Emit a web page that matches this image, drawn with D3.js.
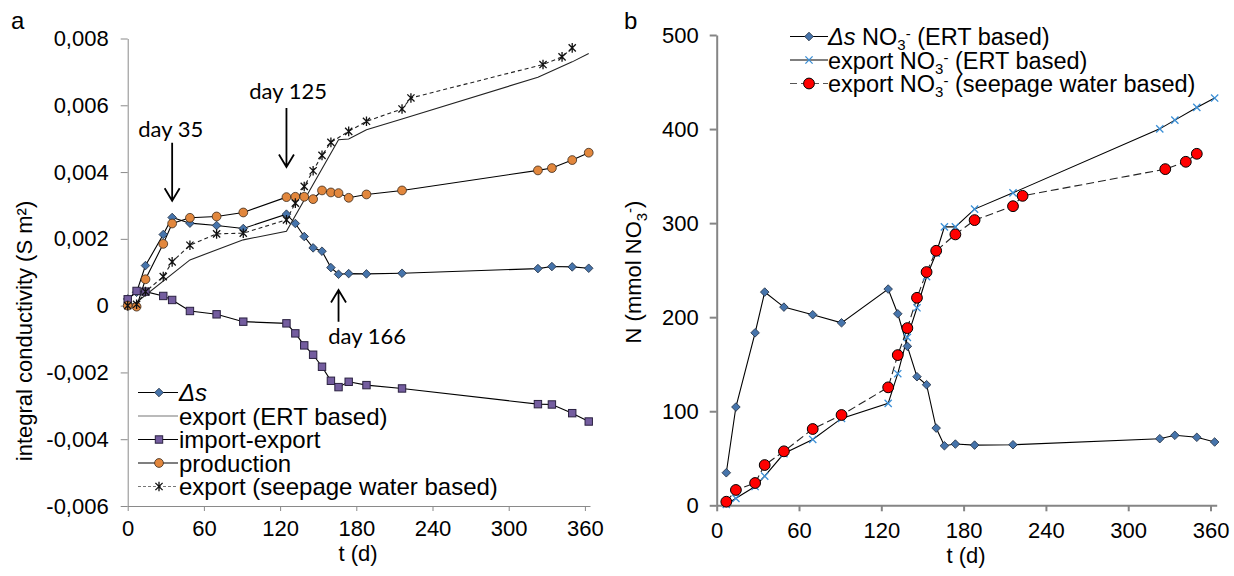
<!DOCTYPE html>
<html>
<head>
<meta charset="utf-8">
<script src="https://cdn.jsdelivr.net/npm/d3@7/dist/d3.min.js"></script>
<style>
body { margin: 0; background: #fff; }
svg { display: block; font-family: "Liberation Sans", Arial, sans-serif; }
</style>
</head>
<body>
<svg id="chart" width="1234" height="576"></svg>
<script>
// ---- panel a : integral conductivity
const daysA = [0, 7, 14, 28, 35, 49, 70, 91, 125, 132, 139, 146, 153, 160, 166, 174, 188, 216, 323, 334, 350, 363];
const deltaS = [0.0002, 0.0004, 0.0012, 0.00213, 0.00264, 0.00247, 0.0024, 0.00231, 0.00274, 0.00246, 0.00207, 0.00173, 0.00163, 0.00114, 0.00094, 0.00096, 0.00095, 0.00097, 0.00111, 0.00117, 0.00116, 0.00112];
const production = [0, -0.00003, 0.00079, 0.00185, 0.00246, 0.00263, 0.00267, 0.00279, 0.00325, 0.00326, 0.00326, 0.00319, 0.00345, 0.00339, 0.00337, 0.00323, 0.00333, 0.00345, 0.00405, 0.00412, 0.00436, 0.00458];
const importExport = [0.00019, 0.00044, 0.00042, 0.00029, 0.00017, -0.00016, -0.00026, -0.00048, -0.00053, -0.00083, -0.00119, -0.00147, -0.00183, -0.00225, -0.00244, -0.00228, -0.00238, -0.00248, -0.00295, -0.00296, -0.00322, -0.00347];

const daysErtA = [0, 7, 49, 91, 125, 166, 174, 188, 216, 323, 350, 363];
const exportErtA = [0, 0.0001, 0.00137, 0.00197, 0.00223, 0.00497, 0.00499, 0.00527, 0.00559, 0.00684, 0.0073, 0.00755];

const daysSeep = [0, 7, 14, 28, 35, 49, 70, 91, 125, 132, 139, 146, 153, 160, 174, 188, 216, 223, 327, 342, 350];
const exportSeepA = [0, 0.00004, 0.00042, 0.00087, 0.00131, 0.00181, 0.00215, 0.00217, 0.00257, 0.00307, 0.00357, 0.00404, 0.0045, 0.00489, 0.00522, 0.00552, 0.00589, 0.00622, 0.00722, 0.00745, 0.00772];

const ticksXA = [0, 60, 120, 180, 240, 300, 360];
const ticksYA = [-0.006, -0.004, -0.002, 0, 0.002, 0.004, 0.006, 0.008];

// arrows: day, tip value, direction
const notes = [
    {day: 35, label: "day 35", tip: 0.00314, tail: 0.00488, down: true},
    {day: 125, label: "day 125", tip: 0.00415, tail: 0.00592, down: true},
    {day: 166, label: "day 166", tip: 0.00047, tail: -0.00048, down: false}
];

// ---- panel b : nitrate
const daysB = [7, 14, 28, 35, 49, 70, 91, 125, 132, 139, 146, 153, 160, 166, 174, 188, 216, 323, 334, 350, 363];
const deltaNO3 = [34.6, 104.5, 183.4, 226.7, 210.7, 202.6, 194, 229.9, 203.6, 169, 136.7, 128.2, 82.1, 63.3, 65.1, 64, 64.4, 70.8, 74.4, 72.3, 67.3];
const exportErtB = [1, 7.4, 20, 31, 55, 70, 92.4, 108.4, 139.9, 178.5, 210, 243, 268, 296, 296, 314.9, 332.2, 400.2, 409.5, 423, 433];

const daysSeepB = [7, 14, 28, 35, 49, 70, 91, 125, 132, 139, 146, 153, 160, 174, 188, 216, 223, 327, 342, 350];
const exportSeepB = [3.8, 16.3, 23.7, 42.8, 57.4, 81.1, 96, 125.4, 159.7, 188.4, 220.6, 248, 270.6, 288, 303.2, 318, 329, 357.4, 365.2, 373.7];

const ticksXB = [0, 60, 120, 180, 240, 300, 360];
const ticksYB = [0, 100, 200, 300, 400, 500];

const svg = d3.select("#chart");

const xA = d3.scaleLinear().domain([0, 364]).range([127.7, 590]);
const yA = d3.scaleLinear().domain([-0.006, 0.008]).range([506, 38.5]);
const xB = d3.scaleLinear().domain([0, 364.5]).range([716.7, 1216.7]);
const yB = d3.scaleLinear().domain([0, 500]).range([505.3, 35]);

const fmtA = d => d === 0 ? "0" : d.toFixed(3).replace(".", ",");

// markers
const diamond = "M0,-4.3L4.3,0L0,4.3L-4.3,0Z";
const star = "M-3.6,-3.6L3.6,3.6M-3.6,3.6L3.6,-3.6M0,-4.8L0,4.8";
const cross = "M-3.6,-3.6L3.6,3.6M-3.6,3.6L3.6,-3.6";

function drawMarks(g, pts, x, y, kind) {
    const sel = g.append("g").selectAll("g").data(pts).join("g")
        .attr("transform", d => `translate(${x(d[0])},${y(d[1])})`);
    addMarker(sel, kind);
}

function addMarker(sel, kind) {
    if (kind === "diamond")
        sel.append("path").attr("d", diamond).attr("fill", "#4674ab").attr("stroke", "#1e2b3d").attr("stroke-width", 0.8);
    if (kind === "square")
        sel.append("rect").attr("x", -3.7).attr("y", -3.7).attr("width", 7.4).attr("height", 7.4)
            .attr("fill", "#745d9f").attr("stroke", "#2a2140").attr("stroke-width", 1);
    if (kind === "circle")
        sel.append("circle").attr("r", 4.4).attr("fill", "#e2873d").attr("stroke", "#3a2a1c").attr("stroke-width", 0.8);
    if (kind === "star")
        sel.append("path").attr("d", star).attr("fill", "none").attr("stroke", "#111").attr("stroke-width", 1.3);
    if (kind === "cross")
        sel.append("path").attr("d", cross).attr("fill", "none").attr("stroke", "#3b8fd6").attr("stroke-width", 1.3);
    if (kind === "red")
        sel.append("circle").attr("r", 5.4).attr("fill", "#ff0000").attr("stroke", "#000").attr("stroke-width", 1);
}

function drawLine(g, pts, x, y, color, dash) {
    g.append("path")
        .datum(pts)
        .attr("fill", "none")
        .attr("stroke", color)
        .attr("stroke-width", 1.1)
        .attr("stroke-dasharray", dash || null)
        .attr("d", d3.line().x(d => x(d[0])).y(d => y(d[1])));
}

function styleAxis(g, color, width) {
    g.select(".domain").attr("stroke", color).attr("stroke-width", width);
    g.selectAll(".tick line").attr("stroke", color).attr("stroke-width", width);
    g.selectAll(".tick text").attr("fill", "#000").attr("font-size", 22)
        .attr("font-family", "'Liberation Sans', Arial, sans-serif");
}

// ================= panel a =================
const gA = svg.append("g");

gA.append("g")
    .attr("transform", `translate(${xA(0)},0)`)
    .call(d3.axisLeft(yA).tickValues(ticksYA).tickFormat(fmtA).tickSize(7).tickPadding(12).tickSizeOuter(0))
    .call(g => styleAxis(g, "#8a8a8a", 1));

gA.append("g")
    .attr("transform", `translate(0,${yA(-0.006)})`)
    .call(d3.axisBottom(xA).tickValues(ticksXA).tickSize(5).tickPadding(9).tickSizeOuter(0))
    .call(g => styleAxis(g, "#8a8a8a", 1));

drawLine(gA, d3.zip(daysA, deltaS), xA, yA, "#000");
drawLine(gA, d3.zip(daysErtA, exportErtA), xA, yA, "#222");
drawLine(gA, d3.zip(daysA, importExport), xA, yA, "#000");
drawLine(gA, d3.zip(daysA, production), xA, yA, "#000");
drawLine(gA, d3.zip(daysSeep, exportSeepA), xA, yA, "#222", "4,3");

drawMarks(gA, d3.zip(daysA, deltaS), xA, yA, "diamond");
drawMarks(gA, d3.zip(daysA, importExport), xA, yA, "square");
drawMarks(gA, d3.zip(daysA, production), xA, yA, "circle");
drawMarks(gA, d3.zip(daysSeep, exportSeepA), xA, yA, "star");

// arrows and day labels
notes.forEach(n => {
    const x = xA(n.day);
    const y1 = yA(n.tail), y2 = yA(n.tip);
    const s = n.down ? -1 : 1;
    gA.append("path")
        .attr("d", `M${x},${y1}L${x},${y2}M${x - 7.5},${y2 + s * 12.5}L${x},${y2}L${x + 7.5},${y2 + s * 12.5}`)
        .attr("fill", "none").attr("stroke", "#000").attr("stroke-width", 1.8);
});
gA.append("text").attr("x", 138.3).attr("y", 137).text("day 35")
    .attr("font-family", "Lato, 'Open Sans', sans-serif").attr("font-size", 22);
gA.append("text").attr("x", 249.3).attr("y", 99).text("day 125")
    .attr("font-family", "Lato, 'Open Sans', sans-serif").attr("font-size", 22);
gA.append("text").attr("x", 328.3).attr("y", 344).text("day 166")
    .attr("font-family", "Lato, 'Open Sans', sans-serif").attr("font-size", 22);

// legend a
const legA = [
    {kind: "diamond", line: "#000", dash: null, label: "Δs", italic: true},
    {kind: null, line: "#777", dash: null, label: "export (ERT based)"},
    {kind: "square", line: "#000", dash: null, label: "import-export"},
    {kind: "circle", line: "#000", dash: null, label: "production"},
    {kind: "star", line: "#777", dash: "3,2", label: "export (seepage water based)"}
];
const rowA = gA.append("g").selectAll("g").data(legA).join("g")
    .attr("transform", (d, i) => `translate(0,${392.5 + i * 23.5})`);
rowA.append("line").attr("x1", 138).attr("x2", 178).attr("y1", 0).attr("y2", 0)
    .attr("stroke", d => d.line).attr("stroke-width", 1.1).attr("stroke-dasharray", d => d.dash);
rowA.each(function(d) {
    if (d.kind) addMarker(d3.select(this).append("g").attr("transform", "translate(159,0)"), d.kind);
});
rowA.append("text").attr("x", 179).attr("y", 8.5).attr("font-size", 24)
    .attr("font-style", d => d.italic ? "italic" : null)
    .text(d => d.label);

// axis titles a
gA.append("text").attr("transform", "translate(32,331) rotate(-90)")
    .attr("text-anchor", "middle").attr("font-size", 22)
    .text("integral conductivity (S m²)");
gA.append("text").attr("x", 358).attr("y", 561).attr("text-anchor", "middle").attr("font-size", 22).text("t (d)");
gA.append("text").attr("x", 11).attr("y", 29).attr("font-size", 24).text("a");

// ================= panel b =================
const gB = svg.append("g");

gB.append("g")
    .attr("transform", `translate(${xB(0)},0)`)
    .call(d3.axisLeft(yB).tickValues(ticksYB).tickSize(7).tickPadding(11).tickSizeOuter(0))
    .call(g => styleAxis(g, "#858585", 2));

gB.append("g")
    .attr("transform", `translate(0,${yB(0)})`)
    .call(d3.axisBottom(xB).tickValues(ticksXB).tickSize(6).tickPadding(11).tickSizeOuter(0))
    .call(g => styleAxis(g, "#858585", 2));

drawLine(gB, d3.zip(daysB, deltaNO3), xB, yB, "#000");
drawLine(gB, d3.zip(daysB, exportErtB), xB, yB, "#000");
drawLine(gB, d3.zip(daysSeepB, exportSeepB), xB, yB, "#222", "8,4");

drawMarks(gB, d3.zip(daysB, deltaNO3), xB, yB, "diamond");
drawMarks(gB, d3.zip(daysB, exportErtB), xB, yB, "cross");
drawMarks(gB, d3.zip(daysSeepB, exportSeepB), xB, yB, "red");

// legend b
const legB = [
    {kind: "diamond", dash: null, pre: "Δs", post: " (ERT based)"},
    {kind: "cross", dash: null, pre: "export", post: " (ERT based)"},
    {kind: "red", dash: "7,4", pre: "export", post: " (seepage water based)"}
];
const rowB = gB.append("g").selectAll("g").data(legB).join("g")
    .attr("transform", (d, i) => `translate(0,${36.5 + i * 23.5})`);
rowB.append("line").attr("x1", 790).attr("x2", 828).attr("y1", 0).attr("y2", 0)
    .attr("stroke", d => d.dash ? "#555" : "#000").attr("stroke-width", 1.1).attr("stroke-dasharray", d => d.dash);
rowB.each(function(d) {
    addMarker(d3.select(this).append("g").attr("transform", "translate(809,0)"), d.kind);
});
rowB.each(function(d) {
    const t = d3.select(this).append("text").attr("x", 828).attr("y", 8.5).attr("font-size", 23.5);
    t.append("tspan").attr("font-style", d.pre === "Δs" ? "italic" : null).text(d.pre);
    t.append("tspan").text(" NO");
    t.append("tspan").attr("font-size", 15).attr("dy", 5).text("3");
    t.append("tspan").attr("font-size", 15).attr("dy", -11).text("-");
    t.append("tspan").attr("dy", 6).text(d.post);
});

// axis titles b
const yt = gB.append("text").attr("transform", "translate(641,272) rotate(-90)")
    .attr("text-anchor", "middle").attr("font-size", 22);
yt.append("tspan").text("N (mmol NO");
yt.append("tspan").attr("font-size", 15).attr("dy", 6).text("3");
yt.append("tspan").attr("font-size", 15).attr("dy", -12).text("-");
yt.append("tspan").attr("dy", 6).text(")");
gB.append("text").attr("x", 966).attr("y", 563).attr("text-anchor", "middle").attr("font-size", 22).text("t (d)");
gB.append("text").attr("x", 624).attr("y", 29).attr("font-size", 24).text("b");
</script>
</body>
</html>
